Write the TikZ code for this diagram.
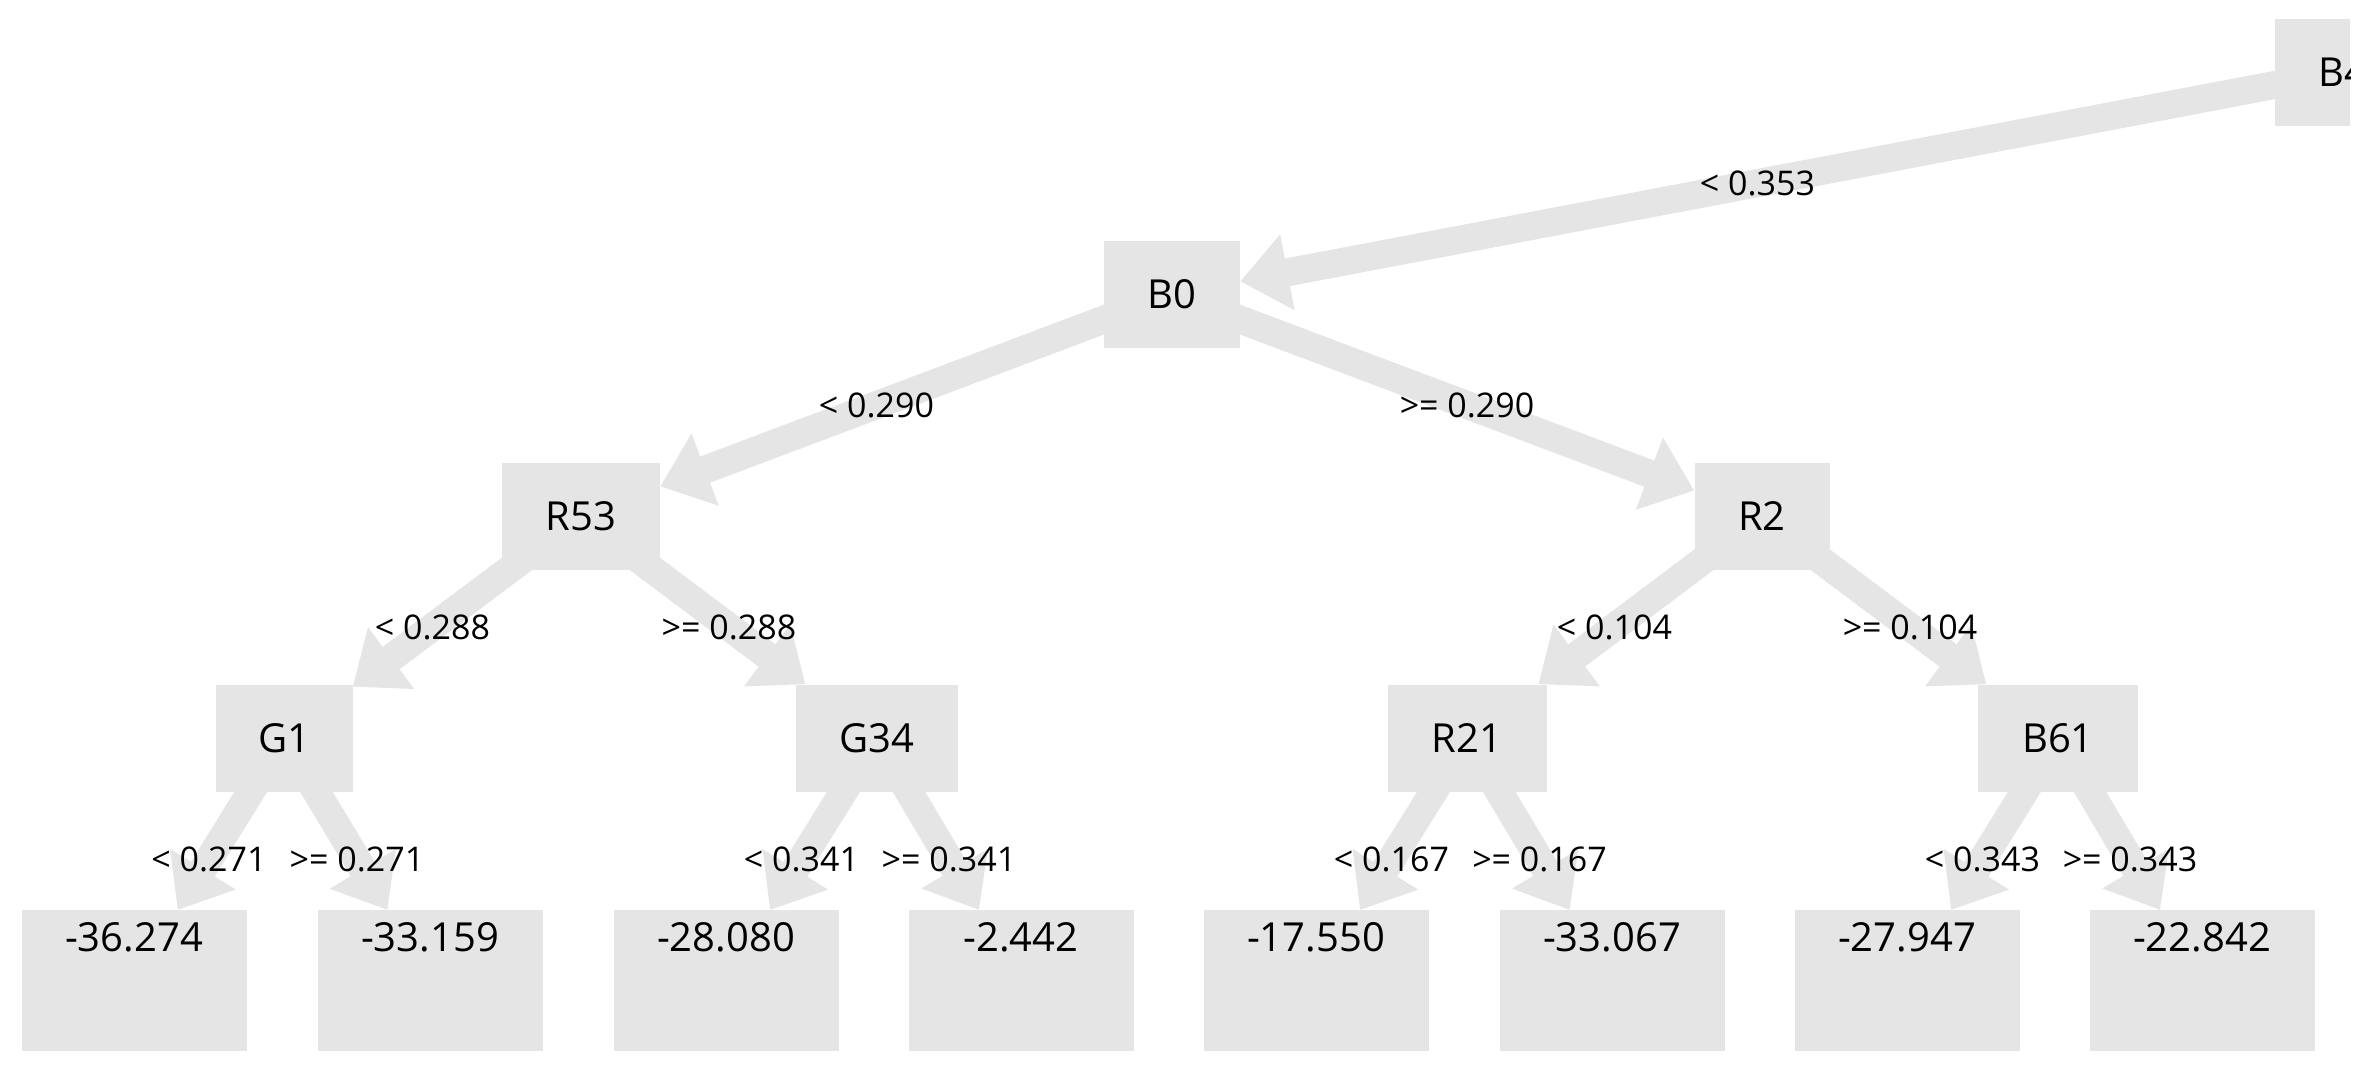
\documentclass[tikz,border=0pt]{standalone}
\usepackage{fontspec}
\setmainfont{Open Sans}
\usetikzlibrary{arrows.meta,backgrounds}
\definecolor{boxgray}{HTML}{E5E5E5}
\begin{document}
\begin{tikzpicture}[x=1pt,y=-1pt,
  inode/.style={fill=boxgray, inner sep=0pt, minimum height=107pt, font=\fontsize{40}{48}\selectfont},
  leaf/.style={fill=boxgray, inner sep=0pt, minimum width=225pt, text height=41pt, text depth=100pt, anchor=north, font=\fontsize{40}{48}\selectfont},
  edge/.style={draw=boxgray, line width=28pt, -{Triangle[length=48pt,width=74pt]}},
  lbl/.style={font=\fontsize{34}{40}\selectfont, inner sep=0pt}]
\useasboundingbox (0,0) rectangle (2375,1071);
\clip (0,0) rectangle (2350,1071);
% internal nodes
\node[inode, minimum width=136pt] (B4) at (2343,72) {B4};
\node[inode, minimum width=136pt] (B0) at (1172,294) {B0};
\node[inode, minimum width=158pt] (R53) at (581,516) {R53};
\node[inode, minimum width=135pt] (R2) at (1762,516) {R2};
\node[inode, minimum width=137pt] (G1) at (284,738) {G1};
\node[inode, minimum width=162pt] (G34) at (877,738) {G34};
\node[inode, minimum width=159pt] (R21) at (1467,738) {R21};
\node[inode, minimum width=160pt] (B61) at (2058,738) {B61};
% leaves
\node[leaf] (L1) at (134,910) {-36.274};
\node[leaf] (L2) at (430,910) {-33.159};
\node[leaf] (L3) at (726,910) {-28.080};
\node[leaf] (L4) at (1021,910) {-2.442};
\node[leaf] (L5) at (1316,910) {-17.550};
\node[leaf] (L6) at (1612,910) {-33.067};
\node[leaf] (L7) at (1907,910) {-27.947};
\node[leaf] (L8) at (2202,910) {-22.842};
% edges
\begin{scope}[on background layer]
\clip (0,0) rectangle (2350,1071);
\draw[edge] (B4.center) -- (B0);
\draw[edge] (B0.center) -- (R53);
\draw[edge] (B0.center) -- (R2);
\draw[edge] (R53.center) -- (G1);
\draw[edge] (R53.center) -- (G34);
\draw[edge] (R2.center) -- (R21);
\draw[edge] (R2.center) -- (B61);
\draw[edge] (G1.center) -- (L1);
\draw[edge] (G1.center) -- (L2);
\draw[edge] (G34.center) -- (L3);
\draw[edge] (G34.center) -- (L4);
\draw[edge] (R21.center) -- (L5);
\draw[edge] (R21.center) -- (L6);
\draw[edge] (B61.center) -- (L7);
\draw[edge] (B61.center) -- (L8);
\end{scope}
% edge labels
\path (B4.center) -- node[lbl] (e1) {< 0.353} (B0.center);
\path (B0.center) -- node[lbl] (e2) {< 0.290} (R53.center);
\path (B0.center) -- node[lbl] (e3) {>= 0.290} (R2.center);
\path (R53.center) -- node[lbl] (e4) {< 0.288} (G1.center);
\path (R53.center) -- node[lbl] (e5) {>= 0.288} (G34.center);
\path (R2.center) -- node[lbl] (e6) {< 0.104} (R21.center);
\path (R2.center) -- node[lbl] (e7) {>= 0.104} (B61.center);
\path (G1.center) -- node[lbl] (e8) {< 0.271} (L1.center);
\path (G1.center) -- node[lbl] (e9) {>= 0.271} (L2.center);
\path (G34.center) -- node[lbl] (e10) {< 0.341} (L3.center);
\path (G34.center) -- node[lbl] (e11) {>= 0.341} (L4.center);
\path (R21.center) -- node[lbl] (e12) {< 0.167} (L5.center);
\path (R21.center) -- node[lbl] (e13) {>= 0.167} (L6.center);
\path (B61.center) -- node[lbl] (e14) {< 0.343} (L7.center);
\path (B61.center) -- node[lbl] (e15) {>= 0.343} (L8.center);
\end{tikzpicture}
\end{document}
